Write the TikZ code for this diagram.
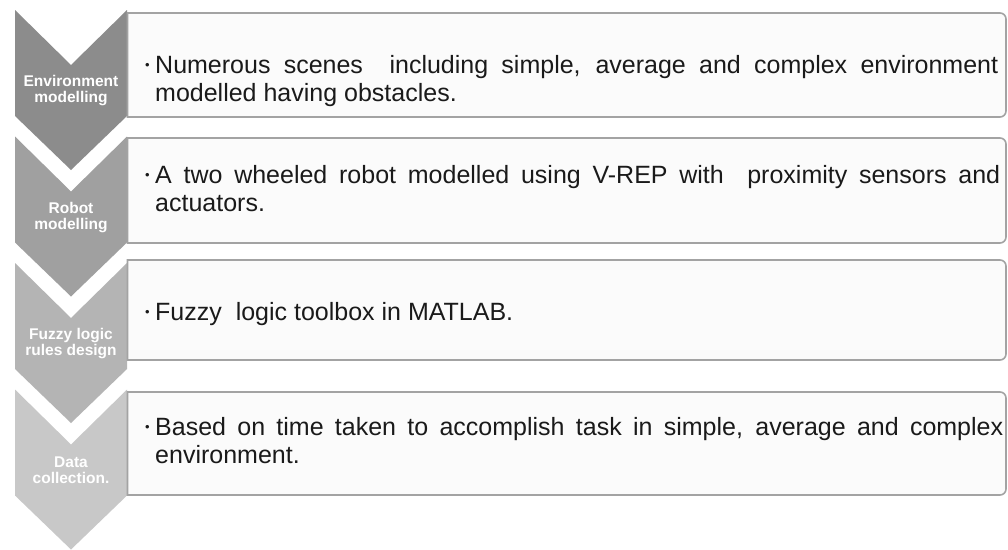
\documentclass[tikz,border=0pt]{standalone}
\usepackage{fontspec}
\setmainfont{Liberation Sans}
\begin{document}
\begin{tikzpicture}[x=1pt,y=-1pt,
  boxstyle/.style={draw=boxline,fill=boxfill,line width=1.6pt},
  chevtext/.style={text=white,font=\fontsize{15.5}{16}\selectfont\bfseries,align=center,inner sep=0pt},
  boxtext/.style={anchor=base west,inner sep=0pt,font=\fontsize{25}{28}\selectfont,text=textcol}]
\definecolor{boxline}{HTML}{A3A3A3}
\definecolor{boxfill}{HTML}{FBFBFB}
\definecolor{textcol}{HTML}{1A1A1A}
\definecolor{chevA}{HTML}{8C8C8C}
\definecolor{chevB}{HTML}{A0A0A0}
\definecolor{chevC}{HTML}{B4B4B4}
\definecolor{chevD}{HTML}{C8C8C8}
\useasboundingbox (0,0) rectangle (1008,549);
\fill[white] (0,0) rectangle (1008,549);
% chevrons: top t, notch t+55, shoulder t+106, tip t+160
\newcommand{\chev}[2]{\fill[#1] (15,#2) -- (71,#2+55) -- (127,#2) -- (127,#2+106) -- (71,#2+160) -- (15,#2+106) -- cycle;}
\chev{chevA}{10}
\chev{chevB}{136.5}
\chev{chevC}{263}
\chev{chevD}{389.5}
% boxes
\newcommand{\bx}[2]{\draw[boxstyle] (127.5,#1) [rounded corners=6pt] -- (1006,#1) -- (1006,#2) [sharp corners] -- (127.5,#2) -- cycle;}
\bx{13}{117}
\bx{138}{243}
\bx{260}{360}
\bx{392}{495}
% chevron labels
\node[chevtext] (c1) at (71,91) {Environment\\modelling};
\node[chevtext] (c2) at (71,217.5) {Robot\\modelling};
\node[chevtext] (c3) at (71,344) {Fuzzy logic\\rules design};
\node[chevtext] (c4) at (71,470.5) {Data\\collection.};
% box texts
\newcommand{\bul}{\makebox[10pt][l]{\raisebox{3.5pt}{\fontsize{13}{13}\selectfont •}}}
\node[boxtext] (t1) at (145,73) {\parbox[t]{900pt}{\noindent\bul\makebox[843pt][s]{Numerous scenes \ including simple, average and complex environment}\\\hspace*{10pt}modelled having obstacles.}};
\node[boxtext] (t2) at (145,183) {\parbox[t]{900pt}{\noindent\bul\makebox[845pt][s]{A two wheeled robot modelled using V-REP with \ proximity sensors and}\\\hspace*{10pt}actuators.}};
\node[boxtext] (t3) at (145,320) {\parbox[t]{900pt}{\noindent\bul Fuzzy \ logic toolbox in MATLAB.}};
\node[boxtext] (t4) at (145,435) {\parbox[t]{900pt}{\noindent\bul\makebox[848pt][s]{Based on time taken to accomplish task in simple, average and complex}\\\hspace*{10pt}environment.}};
\end{tikzpicture}
\end{document}
